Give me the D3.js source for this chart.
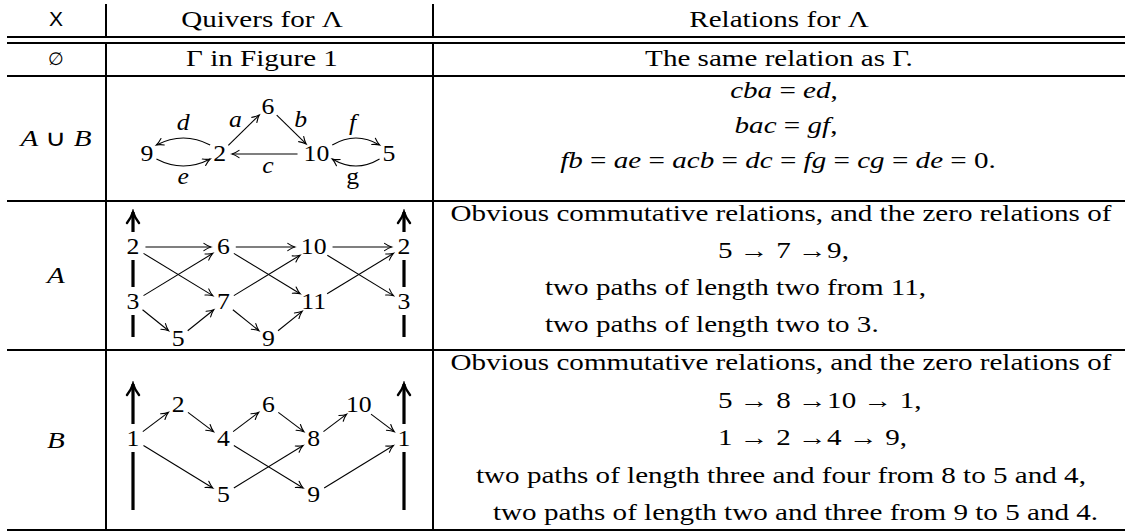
<!DOCTYPE html>
<html>
<head>
<meta charset="utf-8">
<script src="https://cdn.jsdelivr.net/npm/d3@7"></script>
<style>
  body { margin: 0; background: #fff; }
  svg { display: block; }
</style>
</head>
<body>
<svg id="chart"></svg>
<script>
// table text
const headers = ['X', 'Quivers for Λ', 'Relations for Λ'];
const rowKeys = ['∅', 'A ∪ B', 'A', 'B'];
const emptyRow = ['Γ in Figure 1', 'The same relation as Γ.'];
const relAB = ['cba = ed,', 'bac = gf,', 'fb = ae = acb = dc = fg = cg = de = 0.'];
const relA = [
  'Obvious commutative relations, and the zero relations of',
  '5 → 7 →9,',
  'two paths of length two from 11,',
  'two paths of length two to 3.'
];
const relB = [
  'Obvious commutative relations, and the zero relations of',
  '5 → 8 →10 → 1,',
  '1 → 2 →4 → 9,',
  'two paths of length three and four from 8 to 5 and 4,',
  'two paths of length two and three from 9 to 5 and 4.'
];

// quiver for A ∪ B
const nodesAB = [
  { id: '9', col: 0, row: 'mid' },
  { id: '2', col: 1.5, row: 'mid' },
  { id: '6', col: 2.5, row: 'top' },
  { id: '10', col: 3.5, row: 'mid' },
  { id: '5', col: 5, row: 'mid' }
];
const edgesAB = [
  { from: '2', to: '6', label: 'a', side: 'above' },
  { from: '6', to: '10', label: 'b', side: 'above' },
  { from: '10', to: '2', label: 'c', side: 'below' },
  { from: '2', to: '9', label: 'd', side: 'above', bend: 'up' },
  { from: '9', to: '2', label: 'e', side: 'below', bend: 'down' },
  { from: '10', to: '5', label: 'f', side: 'above', bend: 'up' },
  { from: '5', to: '10', label: 'g', side: 'below', bend: 'down', roman: true }
];

// quiver for A
const nodesA = [
  { id: '2a', label: '2', col: 0, row: 0 },
  { id: '6', col: 2, row: 0 },
  { id: '10', col: 4, row: 0 },
  { id: '2b', label: '2', col: 6, row: 0 },
  { id: '3a', label: '3', col: 0, row: 1 },
  { id: '7', col: 2, row: 1 },
  { id: '11', col: 4, row: 1 },
  { id: '3b', label: '3', col: 6, row: 1 },
  { id: '5', col: 1, row: 2 },
  { id: '9', col: 3, row: 2 }
];
const edgesA = [
  ['2a', '6'], ['6', '10'], ['10', '2b'],
  ['2a', '7'], ['3a', '6'], ['6', '11'], ['7', '10'], ['10', '3b'], ['11', '2b'],
  ['3a', '5'], ['5', '7'], ['7', '9'], ['9', '11']
];

// quiver for B
const nodesB = [
  { id: '1a', label: '1', col: 0, row: 1 },
  { id: '2', col: 1, row: 0 },
  { id: '4', col: 2, row: 1 },
  { id: '6', col: 3, row: 0 },
  { id: '8', col: 4, row: 1 },
  { id: '10', col: 5, row: 0 },
  { id: '1b', label: '1', col: 6, row: 1 },
  { id: '5', col: 2, row: 2 },
  { id: '9', col: 4, row: 2 }
];
const edgesB = [
  ['1a', '2'], ['2', '4'], ['4', '6'], ['6', '8'], ['8', '10'], ['10', '1b'],
  ['1a', '5'], ['5', '8'], ['4', '9'], ['9', '1b']
];
const boldCols = [0, 6];

// layout
const W = 1125, H = 532;
const tableX = [7, W];
const colX = [106, 433];
const colMid = [56, 262, 779];
const ruleY = [37, 43, 76, 201, 350, 530];
const rowBase = [66, 146, 283, 448];
const headBase = 27;
const relLayout = [
  { y0: 98, dy: 35, pos: [['middle', 784], ['middle', 786], ['middle', 778]] },
  { y0: 221, dy: 37, pos: [['middle', 781], ['start', 718], ['start', 545], ['start', 545]] },
  { y0: 370, dy: 37.5, pos: [['middle', 781], ['start', 718], ['start', 718], ['start', 476], ['start', 493]] }
];
const refWidth = 661; // width of the "Obvious ..." line
const nodeStretch = 1.12;
const fontSize = '23px';

const svg = d3.select('#chart').attr('width', W).attr('height', H);
svg.append('rect').attr('width', W).attr('height', H).attr('fill', '#fff');

const defs = svg.append('defs');
function marker(id, len, half, sw) {
  defs.append('marker')
    .attr('id', id)
    .attr('viewBox', `${-len - 3} ${-half - 3} ${len + 6} ${2 * half + 6}`)
    .attr('markerUnits', 'userSpaceOnUse')
    .attr('markerWidth', len + 6)
    .attr('markerHeight', 2 * half + 6)
    .attr('refX', 0)
    .attr('refY', 0)
    .attr('orient', 'auto')
    .append('path')
    .attr('d', `M${-len},${-half} Q${-len * 0.45},${-half * 0.25} 0,0 Q${-len * 0.45},${half * 0.25} ${-len},${half}`)
    .attr('fill', 'none')
    .attr('stroke', '#000')
    .attr('stroke-width', sw)
    .attr('stroke-linecap', 'round');
}
marker('tip', 7, 3.6, 1.1);
marker('tipBold', 11, 6, 2.4);

const gRules = svg.append('g');
const gBold = svg.append('g');
const gMask = svg.append('g');
const gEdges = svg.append('g');
const gText = svg.append('g');

// rules
ruleY.forEach(y => {
  gRules.append('line')
    .attr('x1', tableX[0]).attr('x2', tableX[1])
    .attr('y1', y).attr('y2', y)
    .attr('stroke', '#000').attr('stroke-width', 2);
});
colX.forEach(x => {
  [[4, ruleY[0]], [ruleY[1], ruleY[5]]].forEach(([y1, y2]) => {
    gRules.append('line')
      .attr('x1', x).attr('x2', x)
      .attr('y1', y1).attr('y2', y2)
      .attr('stroke', '#000').attr('stroke-width', 2);
  });
});

// a text placed at (x, y), widened by sx around its anchor
function serifText(x, y, anchor) {
  const t = gText.append('text')
    .attr('x', 0).attr('y', 0)
    .attr('text-anchor', anchor)
    .style('font-family', '"Liberation Serif"')
    .style('font-size', fontSize)
    .style('fill', '#000');
  t.datum({ x, y });
  return t;
}
function widen(t, sx) {
  const p = t.datum();
  t.attr('transform', `translate(${p.x},${p.y}) scale(${sx},1)`);
  return t.node().getComputedTextLength() * sx;
}

// text with italic letters (math)
function mathText(sel, str) {
  str.split(/([A-Za-z]+)/).filter(s => s.length).forEach(s => {
    sel.append('tspan')
      .style('font-style', /^[A-Za-z]+$/.test(s) ? 'italic' : null)
      .text(s);
  });
  return sel;
}

const stretched = [];
function addText(x, y, anchor, str, math) {
  const t = serifText(x, y, anchor);
  if (math) mathText(t, str);
  else t.text(str);
  stretched.push(t);
  return t;
}

// header
gText.append('text')
  .attr('x', colMid[0]).attr('y', headBase - 1)
  .attr('text-anchor', 'middle')
  .style('font-family', '"Liberation Sans"')
  .style('font-size', '21px')
  .text(headers[0]);
addText(colMid[1], headBase, 'middle', headers[1]);
addText(colMid[2], headBase, 'middle', headers[2]);

// first column
gText.append('text')
  .attr('x', colMid[0]).attr('y', rowBase[0] - 1)
  .attr('text-anchor', 'middle')
  .style('font-family', '"DejaVu Serif"')
  .style('font-size', '18px')
  .text(rowKeys[0]);
rowKeys.slice(1).forEach((k, i) => addText(colMid[0], rowBase[i + 1], 'middle', k, true));

// empty row
addText(colMid[1], rowBase[0], 'middle', emptyRow[0]);
addText(colMid[2], rowBase[0], 'middle', emptyRow[1]);

// relations
let refText;
[relAB, relA, relB].forEach((lines, r) => {
  const lay = relLayout[r];
  lines.forEach((str, i) => {
    const [anchor, x] = lay.pos[i];
    const t = addText(x, lay.y0 + i * lay.dy, anchor, str, r === 0);
    if (r === 1 && i === 0) refText = t;
  });
});

// horizontal stretch so the serif face takes the width of the original type
const k = refWidth / refText.node().getComputedTextLength();
stretched.forEach(t => widen(t, k));

function ellipseR(n, ux, uy) {
  const rx = n.hw + 6, ry = 12;
  return 1 / Math.sqrt((ux / rx) ** 2 + (uy / ry) ** 2);
}

function placeNodes(nodes, x, y) {
  const byId = new Map();
  nodes.forEach(n => byId.set(n.id, { ...n, cx: x(n.col), cy: y(n.row) }));
  Array.from(byId.values()).forEach(d => {
    const t = serifText(d.cx, d.cy + 7, 'middle').text(d.label || d.id);
    d.hw = widen(t, nodeStretch) / 2;
  });
  return byId;
}

function straightEdges(byId, edges) {
  gEdges.selectAll(null)
    .data(edges.map(e => {
      const a = byId.get(e.from || e[0]), b = byId.get(e.to || e[1]);
      const dx = b.cx - a.cx, dy = b.cy - a.cy, L = Math.hypot(dx, dy);
      const ux = dx / L, uy = dy / L;
      const ra = ellipseR(a, ux, uy), rb = ellipseR(b, ux, uy);
      return { x1: a.cx + ux * ra, y1: a.cy + uy * ra, x2: b.cx - ux * rb, y2: b.cy - uy * rb };
    }))
    .enter()
    .append('line')
    .attr('x1', d => d.x1).attr('y1', d => d.y1)
    .attr('x2', d => d.x2).attr('y2', d => d.y2)
    .attr('stroke', '#000')
    .attr('stroke-width', 1.1)
    .attr('marker-end', 'url(#tip)');
}

// quiver A ∪ B
{
  const x = d3.scaleLinear().domain([0, 5]).range([147, 389]);
  const y = d3.scaleOrdinal().domain(['top', 'mid']).range([106.5, 154]);
  const byId = placeNodes(nodesAB, x, y);

  straightEdges(byId, edgesAB.filter(e => !e.bend));

  const curved = edgesAB.filter(e => e.bend).map(e => {
    const a = byId.get(e.from), b = byId.get(e.to);
    const s = Math.sign(b.cx - a.cx);
    const off = e.bend === 'up' ? -9 : 5;
    const p0 = [a.cx + s * (a.hw + 3), a.cy + off];
    const p1 = [b.cx - s * (b.hw + 3), b.cy + off];
    const c = [(p0[0] + p1[0]) / 2, p0[1] + (e.bend === 'up' ? -14 : 14)];
    return { d: `M${p0}Q${c} ${p1}`, e };
  });
  gEdges.selectAll(null)
    .data(curved)
    .enter()
    .append('path')
    .attr('d', d => d.d)
    .attr('fill', 'none')
    .attr('stroke', '#000')
    .attr('stroke-width', 1.1)
    .attr('marker-end', 'url(#tip)');

  // arrow labels
  edgesAB.forEach(e => {
    const a = byId.get(e.from), b = byId.get(e.to);
    let lx, ly;
    if (e.bend) {
      lx = (a.cx + b.cx) / 2;
      ly = e.bend === 'up' ? a.cy - 9 - 7 - 13 : a.cy + 5 + 7 + 13;
    } else {
      const dx = b.cx - a.cx, dy = b.cy - a.cy, L = Math.hypot(dx, dy);
      let nx = -dy / L, ny = dx / L;
      const wantUp = e.side === 'above';
      if ((wantUp && ny > 0) || (!wantUp && ny < 0) || (ny === 0 && wantUp === nx > 0)) { nx = -nx; ny = -ny; }
      const dist = Math.abs(ny) > 0.99 ? 14 : 12;
      lx = (a.cx + b.cx) / 2 + nx * dist;
      ly = (a.cy + b.cy) / 2 + ny * dist;
    }
    const t = serifText(lx, ly + 5, 'middle')
      .style('font-style', e.roman ? null : 'italic')
      .text(e.label);
    widen(t, nodeStretch);
  });
}

function boldArrows(byId, x, top, bottom) {
  boldCols.forEach(c => {
    gBold.append('line')
      .attr('x1', x(c)).attr('x2', x(c))
      .attr('y1', bottom).attr('y2', top)
      .attr('stroke', '#000')
      .attr('stroke-width', 3.2)
      .attr('marker-end', 'url(#tipBold)');
  });
  Array.from(byId.values()).filter(n => boldCols.includes(n.col)).forEach(n => {
    gMask.append('rect')
      .attr('x', n.cx - n.hw - 3)
      .attr('y', n.cy - 15)
      .attr('width', 2 * n.hw + 6)
      .attr('height', 28)
      .attr('fill', '#fff');
  });
}

// quiver A
{
  const x = d3.scaleLinear().domain([0, 6]).range([133, 404]);
  const y = d3.scaleOrdinal().domain([0, 1, 2]).range([247, 302, 338.5]);
  const byId = placeNodes(nodesA, x, y);
  straightEdges(byId, edgesA);
  boldArrows(byId, x, y(0) - 35, y(2) - 1.5);
}

// quiver B
{
  const x = d3.scaleLinear().domain([0, 6]).range([133, 404]);
  const y = d3.scaleOrdinal().domain([0, 1, 2]).range([405, 439, 494.5]);
  const byId = placeNodes(nodesB, x, y);
  straightEdges(byId, edgesB);
  boldArrows(byId, x, y(0) - 21, y(2) + 15.5);
}
</script>
</body>
</html>
